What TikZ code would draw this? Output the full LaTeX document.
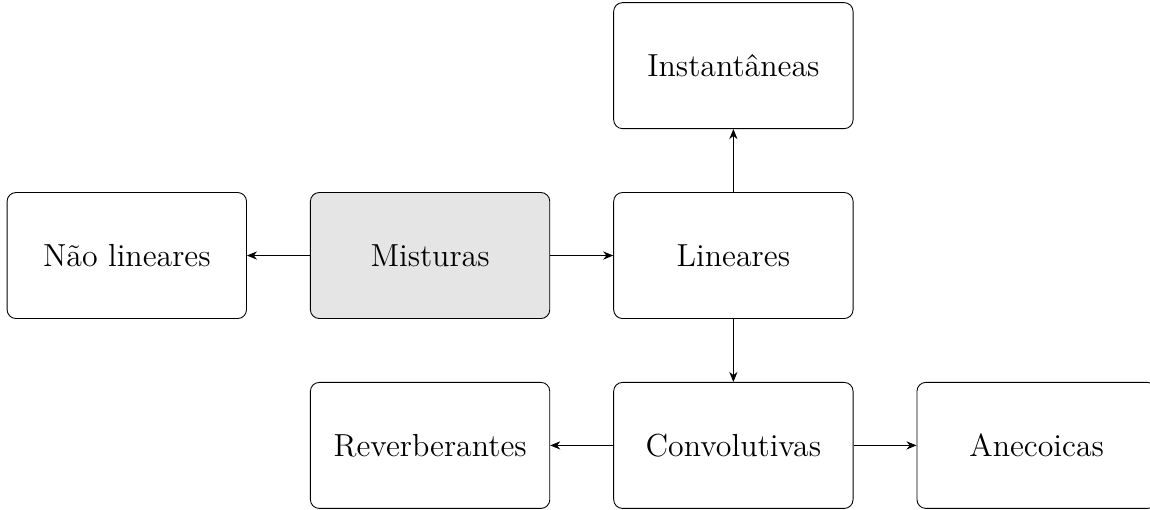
\documentclass[tikz,border=0pt]{standalone}
\usepackage{tikz}
\usetikzlibrary{arrows.meta,positioning}

\begin{document}
\begin{tikzpicture}[
    caixa/.style={rectangle, draw, rounded corners, minimum width=3.8cm, minimum height=2cm, align=center, font=\Large},
    seta/.style={-{Stealth[length=1.6mm, width=1.3mm]}},
    node distance=1cm
]
    \useasboundingbox (-6.827,-4.024) rectangle (11.427,4.056);
    \node[caixa, fill=gray!20] (mist) {Misturas};
    \node[caixa, left=of mist] (nlin) {Não lineares};
    \node[caixa, right=of mist] (lin) {Lineares};
    \node[caixa, above=of lin] (inst) {Instantâneas};
    \node[caixa, below=of lin] (conv) {Convolutivas};
    \node[caixa, left=of conv] (rev) {Reverberantes};
    \node[caixa, right=of conv] (anec) {Anecoicas};
    \draw[seta] (mist) -- (nlin);
    \draw[seta] (mist) -- (lin);
    \draw[seta] (lin) -- (inst);
    \draw[seta] (lin) -- (conv);
    \draw[seta] (conv) -- (rev);
    \draw[seta] (conv) -- (anec);
\end{tikzpicture}
\end{document}
